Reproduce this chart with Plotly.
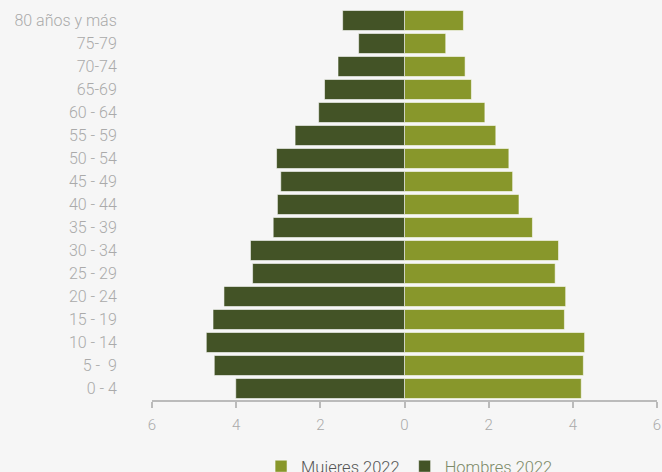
import plotly.graph_objects as go

categories = ["0 - 4", "5 -  9", "10 - 14", "15 - 19", "20 - 24", "25 - 29", "30 - 34",
              "35 - 39", "40 - 44", "45 - 49", "50 - 54", "55 - 59", "60 - 64",
              "65-69", "70-74", "75-79", "80 años y más"]
mujeres = [4.20, 4.25, 4.28, 3.80, 3.83, 3.58, 3.66, 3.04, 2.72, 2.57, 2.48, 2.17, 1.91,
           1.59, 1.44, 0.98, 1.40]
hombres = [4.01, 4.52, 4.71, 4.55, 4.29, 3.61, 3.66, 3.12, 3.02, 2.94, 3.04, 2.60, 2.04,
           1.90, 1.58, 1.09, 1.47]
tick_vals = [-6, -4, -2, 0, 2, 4, 6]
tick_text = ["6", "4", "2", "0", "2", "4", "6"]

fig = go.Figure()
fig.add_trace(go.Bar(
    y=categories, x=mujeres, orientation="h", name="Mujeres 2022",
    marker=dict(color="#88972B", line=dict(color="rgba(255,255,255,0.55)", width=1)),
))
fig.add_trace(go.Bar(
    y=categories, x=[-v for v in hombres], orientation="h",
    name="<span style='color:#7c8a68'>Hombres 2022</span>",
    marker=dict(color="#435326", line=dict(color="rgba(255,255,255,0.55)", width=1)),
))

fig.update_layout(
    width=662, height=472,
    margin=dict(l=152, r=5, t=9, b=72, autoexpand=False),
    paper_bgcolor="#f6f6f6", plot_bgcolor="#f6f6f6",
    barmode="relative", bargap=0.13,
    font=dict(family="Roboto", size=15, color="#aaaaaa", weight=300),
    showlegend=True,
    legend=dict(orientation="h", x=0.51, xanchor="center", y=-0.17, yanchor="middle",
                font=dict(size=16.5, color="#555555", weight=300), itemwidth=30,
                traceorder="normal"),
    xaxis=dict(range=[-6, 6], tickvals=tick_vals, ticktext=tick_text, automargin=False,
               showgrid=False, zeroline=False, showline=True, linecolor="#bbbbbb", linewidth=2,
               ticks="outside", ticklen=6, tickcolor="#bbbbbb", tickwidth=2,
               ticklabelstandoff=4,
               tickfont=dict(size=15, color="#aaaaaa", weight=300), fixedrange=True),
    yaxis=dict(showgrid=False, zeroline=False, showline=False, automargin=False,
               ticks="outside", ticklen=31, tickcolor="rgba(0,0,0,0)",
               tickfont=dict(size=16, color="#aaaaaa", weight=300), fixedrange=True),
)

fig.write_html(
    "out.html",
    config={"displayModeBar": False},
    post_script="document.body.style.margin='0';document.body.style.background='#f6f6f6';"
                "document.documentElement.style.overflow='hidden';",
)
